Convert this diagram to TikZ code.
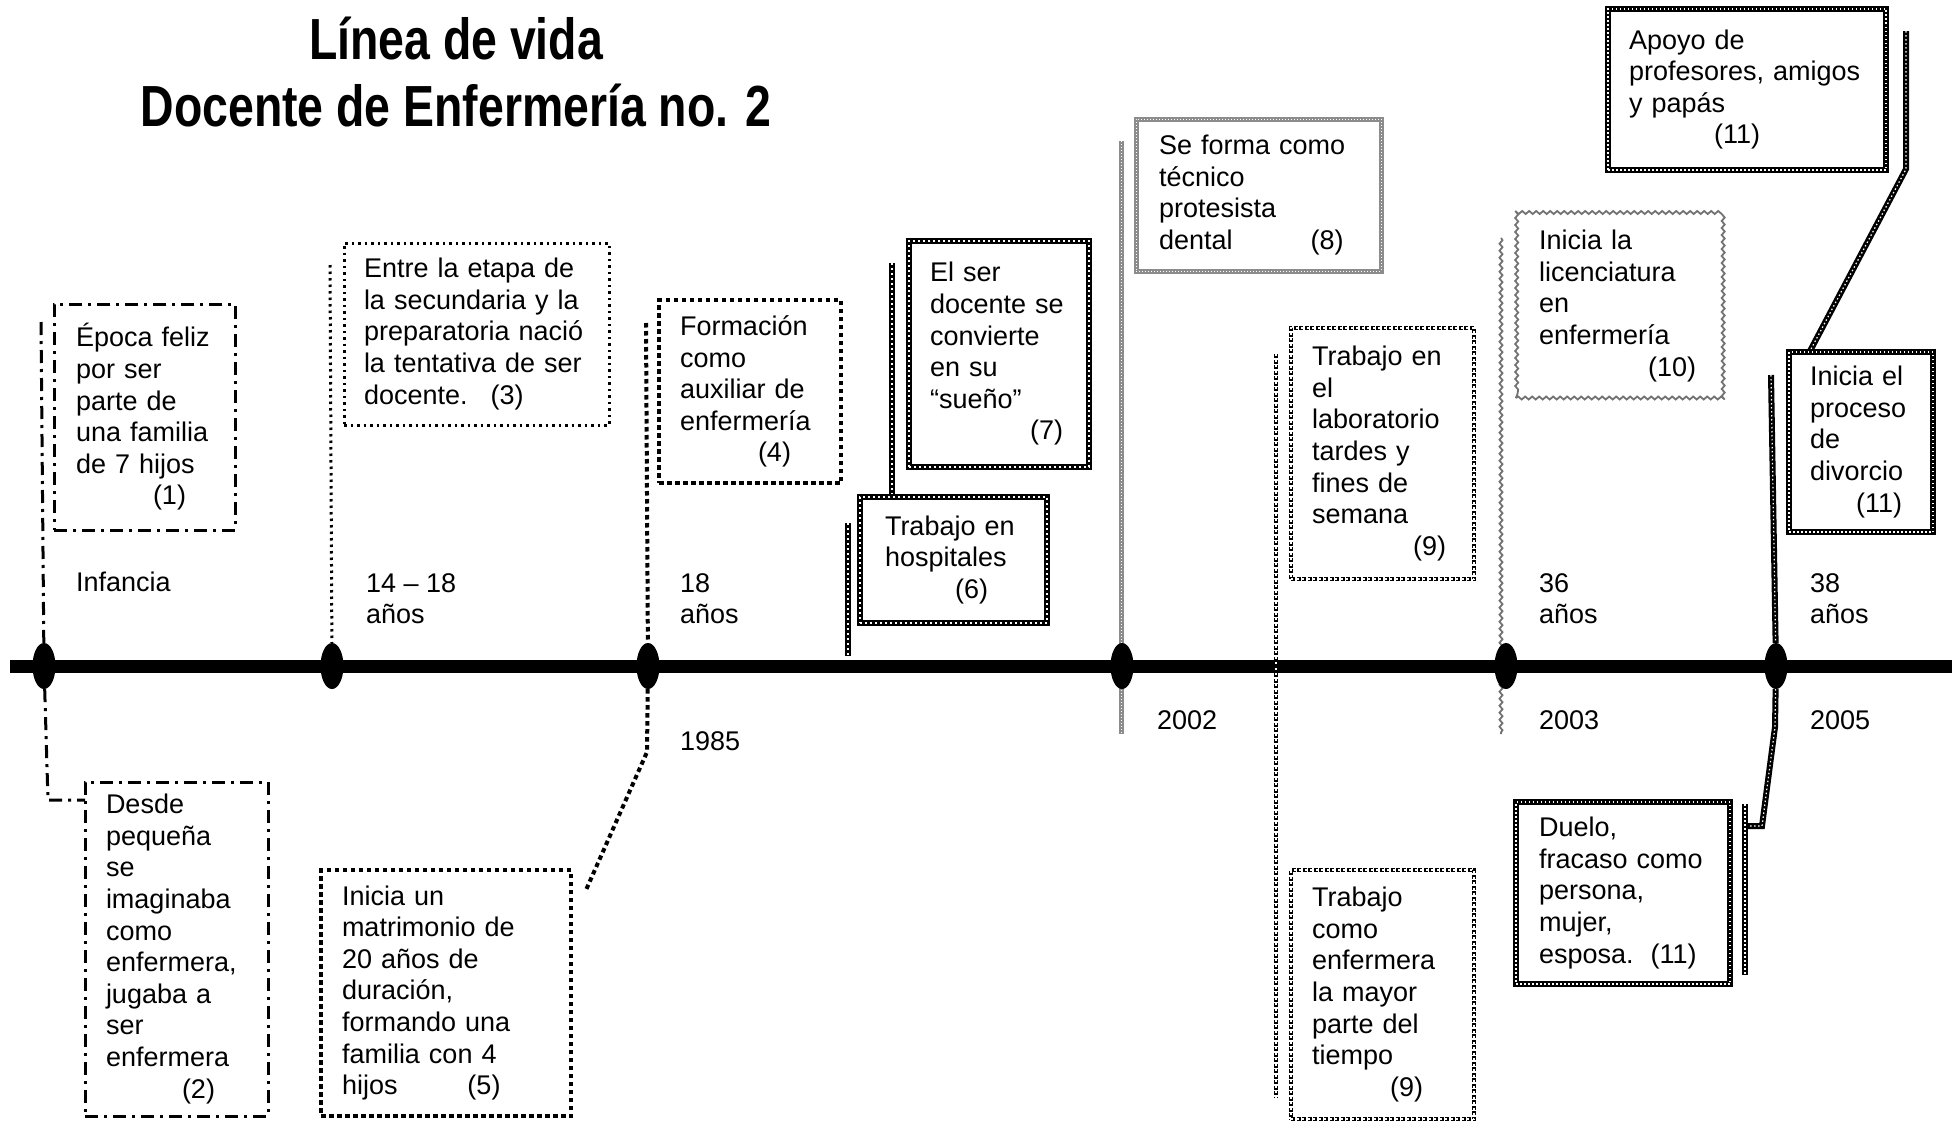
\documentclass[tikz,border=0pt]{standalone}
\usepackage{fontspec}
\setmainfont{Liberation Sans}
\usetikzlibrary{shapes.geometric,decorations.pathmorphing}
\pgfdeclarelayer{bg}
\pgfsetlayers{bg,main}
\newcommand\twoline[2]{\begin{tabular}[t]{@{}l@{}}#1\\#2\end{tabular}}
\begin{document}
\begin{tikzpicture}[x=1pt,y=-1pt,
  txt/.style={font=\fontsize{27pt}{31.6pt}\selectfont, inner sep=0pt, outer sep=0pt},
  bx/.style={txt, draw, anchor=north west, align=left, inner ysep=0pt},
  lbl/.style={txt, anchor=base west},
  ttl/.style={font=\fontsize{58pt}{68pt}\selectfont\bfseries, inner sep=0pt, anchor=base},
  tdot/.style={ellipse, fill=black, minimum width=23pt, minimum height=46pt, inner sep=0pt},
  dd/.style={line width=3pt, dash pattern=on 13pt off 6pt on 3pt off 6pt},
  dotb/.style={line width=3pt, dash pattern=on 2.5pt off 4pt},
  tick/.style={line width=4pt, dash pattern=on 4.5pt off 3.5pt},
  chk/.style={line width=6.5pt, postaction={draw=white, line width=2pt, dash pattern=on 2pt off 3pt}},
  gchk/.style={draw=black!45, line width=5pt, postaction={draw=white, line width=1pt, dash pattern=on 1pt off 2pt}},
  dchk/.style={line width=4pt, dash pattern=on 4pt off 1.5pt, postaction={draw=white, line width=1.2pt, dash pattern=on 2pt off 3.5pt}},
  wav/.style={draw=black!55, line width=1.8pt, decorate, decoration={snake, segment length=7pt, amplitude=1.5pt}},
  bchk/.style={line width=6pt, postaction={draw=white, line width=1.2pt, dash pattern=on 1.5pt off 2.5pt}}
]
\useasboundingbox (0,0) rectangle (1960,1127);

% title
\node[ttl] (title1) at (456,59) {\scalebox{0.8}[1]{Línea de vida}};
\node[ttl] (title2) at (456,126) {\scalebox{0.8}[1]{Docente de Enfermería no. 2}};

% dots
\node[tdot] (d1) at (44,666) {};
\node[tdot] (d2) at (332,666) {};
\node[tdot] (d3) at (648,666) {};
\node[tdot] (d4) at (1122,666) {};
\node[tdot] (d5) at (1506,666) {};
\node[tdot] (d6) at (1776,666) {};

% boxes
\node[bx, dd, minimum width=181pt, minimum height=226pt, text width=137pt, inner xsep=22pt] (b1) at (54,304)
  {Época feliz\\por ser\\parte de\\una familia\\de 7 hijos\\\hspace*{77pt}(1)};
\node[bx, dd, minimum width=183pt, minimum height=334pt, text width=141pt, inner xsep=21pt] (b2) at (85,782)
  {Desde\\pequeña\\se\\imaginaba\\como\\enfermera,\\jugaba a\\ser\\enfermera\\\hspace*{76pt}(2)};
\node[bx, dotb, minimum width=265pt, minimum height=182pt, text width=225pt, inner xsep=20pt] (b3) at (344,243)
  {Entre la etapa de\\la secundaria y la\\preparatoria nació\\la tentativa de ser\\docente.\hspace{23pt}(3)};
\node[bx, tick, minimum width=182pt, minimum height=183pt, text width=140pt, inner xsep=21pt] (b4) at (659,300)
  {Formación\\como\\auxiliar de\\enfermería\\\hspace*{78pt}(4)};
\node[bx, tick, minimum width=250pt, minimum height=246pt, text width=208pt, inner xsep=21pt] (b5) at (321,870)
  {Inicia un\\matrimonio de\\20 años de\\duración,\\formando una\\familia con 4\\hijos\hspace{70pt}(5)};
\node[bx, chk, minimum width=187pt, minimum height=126pt, text width=137pt, inner xsep=25pt] (b6) at (860,497)
  {Trabajo en\\hospitales\\\hspace*{70pt}(6)};
\node[bx, chk, minimum width=180pt, minimum height=226pt, text width=138pt, inner xsep=21pt] (b7) at (909,241)
  {El ser\\docente se\\convierte\\en su\\“sueño”\\\hspace*{100pt}(7)};
\node[bx, gchk, minimum width=245pt, minimum height=152pt, text width=199pt, inner xsep=23pt] (b8) at (1136,119)
  {Se forma como\\técnico\\protesista\\dental\hspace{78pt}(8)};
\node[bx, dchk, minimum width=183pt, minimum height=251pt, text width=141pt, inner xsep=21pt] (b9a) at (1291,328)
  {Trabajo en\\el\\laboratorio\\tardes y\\fines de\\semana\\\hspace*{101pt}(9)};
\node[bx, dchk, minimum width=183pt, minimum height=249pt, text width=141pt, inner xsep=21pt] (b9b) at (1291,870)
  {Trabajo\\como\\enfermera\\la mayor\\parte del\\tiempo\\\hspace*{78pt}(9)};
\node[bx, wav, minimum width=207pt, minimum height=184pt, text width=161pt, inner xsep=23pt] (b10) at (1516,214)
  {Inicia la\\licenciatura\\en\\enfermería\\\hspace*{109pt}(10)};
\node[bx, bchk, minimum width=278pt, minimum height=161pt, text width=236pt, inner xsep=21pt] (b11a) at (1608,9)
  {Apoyo de\\profesores, amigos\\y papás\\\hspace*{85pt}(11)};
\node[bx, bchk, minimum width=144pt, minimum height=180pt, text width=102pt, inner xsep=21pt] (b11b) at (1789,352)
  {Inicia el\\proceso\\de\\divorcio\\\hspace*{46pt}(11)};
\node[bx, bchk, minimum width=214pt, minimum height=182pt, text width=168pt, inner xsep=23pt] (b11c) at (1516,802)
  {Duelo,\\fracaso como\\persona,\\mujer,\\esposa.\hspace{17pt}(11)};

% labels
\node[lbl] (l1) at (76,591) {Infancia};
\node[lbl] (l2) at (366,592) {\twoline{14 – 18}{años}};
\node[lbl] (l3) at (680,592) {\twoline{18}{años}};
\node[lbl] (l4) at (680,750) {1985};
\node[lbl] (l5) at (1157,729) {2002};
\node[lbl] (l6) at (1539,592) {\twoline{36}{años}};
\node[lbl] (l7) at (1539,729) {2003};
\node[lbl] (l8) at (1810,592) {\twoline{38}{años}};
\node[lbl] (l9) at (1810,729) {2005};

% connector points
\coordinate (tlA) at (10,666);
\coordinate (tlB) at (1952,666);
\coordinate (c1a) at (41,322);
\coordinate (c1b) at (48,800);
\coordinate (c3a) at (330,265);
\coordinate (c4a) at (646,323);
\coordinate (c5a) at (647,752);
\coordinate (c5b) at (586,890);
\coordinate (c6a) at (848,523);
\coordinate (c6b) at (848,656);
\coordinate (c7a) at (892,263);
\coordinate (c8a) at (1121,141);
\coordinate (c8b) at (1121,734);
\coordinate (c9a) at (1276,354);
\coordinate (c9b) at (1276,1098);
\coordinate (c10a) at (1501,238);
\coordinate (c10b) at (1501,734);
\coordinate (c11a) at (1906,31);
\coordinate (c11b) at (1906,169);
\coordinate (c11c) at (1810,351);
\coordinate (c11d) at (1771,375);
\coordinate (c11e) at (1775,727);
\coordinate (c11f) at (1762,826);
\coordinate (c11g) at (1745,826);
\coordinate (c11h) at (1745,804);
\coordinate (c11i) at (1745,975);

\begin{pgfonlayer}{bg}
\draw[line width=13pt] (tlA) -- (tlB);
\draw[dd] (c1a) -- (d1);
\draw[dd] (d1) -- (c1b) -- (b2.west |- c1b);
\draw[dotb] (c3a) -- (d2);
\draw[tick] (c4a) -- (d3);
\draw[tick] (d3) -- (c5a) -- (c5b);
\draw[chk] (c6a) -- (c6b);
\draw[chk] (c7a) -- (c7a |- b6.north);
\draw[gchk] (c8a) -- (c8b);
\draw[dchk] (c9a) -- (c9b);
\draw[wav] (c10a) -- (c10b);
\draw[bchk] (c11a) -- (c11b) -- (c11c);
\draw[bchk] (c11d) -- (d6);
\draw[bchk] (d6) -- (c11e) -- (c11f) -- (c11g);
\draw[bchk] (c11h) -- (c11i);
\end{pgfonlayer}
\end{tikzpicture}
\end{document}
